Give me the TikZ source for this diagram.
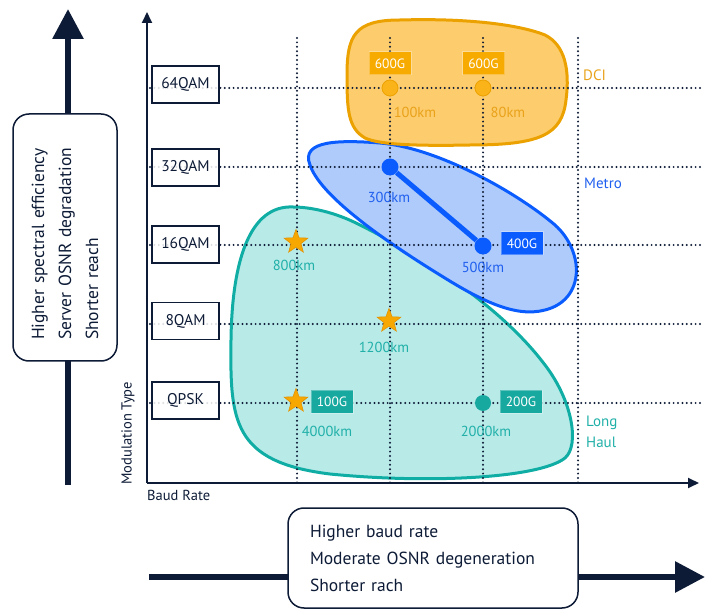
\documentclass[tikz,border=0pt]{standalone}
\usepackage{fontspec}
\setmainfont{PT Sans}
\usetikzlibrary{arrows.meta,shapes.geometric}
\definecolor{navy}{HTML}{0D1B36}
\definecolor{dciline}{HTML}{EBA200}
\definecolor{dcifill}{HTML}{FDCC6C}
\definecolor{dcidot}{HTML}{FBB31A}
\definecolor{dcibox}{HTML}{F7AA00}
\definecolor{dcitext}{HTML}{E9A21A}
\definecolor{metroline}{HTML}{0A5CFF}
\definecolor{metrofill}{HTML}{AFCBFB}
\definecolor{metrotext}{HTML}{1F5FEF}
\definecolor{lhline}{HTML}{10ADA5}
\definecolor{lhfill}{HTML}{B8EAE8}
\definecolor{lhbox}{HTML}{17A99F}
\definecolor{lhtext}{HTML}{20B0A8}
\definecolor{starfill}{HTML}{F7A800}
\definecolor{starline}{HTML}{E39200}
\begin{document}
\begin{tikzpicture}[x=1pt,y=-1pt,
  gridline/.style={navy, line width=2.2pt, dash pattern=on 0pt off 4.4pt, line cap=round},
  modbox/.style={draw=navy, line width=1.4pt, fill=white, fill opacity=0.85, text opacity=1, minimum width=67pt, minimum height=37pt, inner sep=0pt, font=\fontsize{15.5}{18}\selectfont, text=navy},
  ratebox/.style={fill=#1, draw=white, draw opacity=0.3, line width=1pt, minimum width=42pt, minimum height=23pt, inner sep=0pt, text=white, font=\fontsize{13.5}{16}\selectfont},
  kmlabel/.style={text=#1, font=\fontsize{14.5}{17}\selectfont, inner sep=0pt},
  ptdot/.style={circle, fill=#1, minimum size=16pt, inner sep=0pt},
  starmark/.style={star, star points=5, star point ratio=2.4, minimum size=25pt, inner sep=0pt, fill=starfill, draw=starline, line width=0.6pt},
  region/.style={text=#1, font=\fontsize{15}{21}\selectfont, inner sep=0pt, anchor=west, align=left},
  bigarrow/.style={navy, line width=6pt, -{Triangle[length=30pt,width=30pt]}},
  axis/.style={navy, line width=1.8pt, -{Triangle[length=11pt,width=10pt]}},
  notebox/.style={draw=navy, line width=1.5pt, fill=white, rounded corners=16pt, text=navy, align=left, font=\fontsize{17.5}{27}\selectfont}
]
\useasboundingbox (0,0) rectangle (707,609);

% big side arrows and note boxes
\coordinate (la1) at (68,485);
\coordinate (la2) at (68,9);
\draw[bigarrow] (la1) -- (la2);
\node[notebox, rotate=90, minimum width=247pt, minimum height=104pt, text width=205pt, inner xsep=21pt, inner ysep=0pt] (lbox) at (65,237.5)
  {Higher spectral efficiency\\Server OSNR degradation\\Shorter reach};

\coordinate (ba1) at (149,577);
\coordinate (ba2) at (705,577);
\draw[bigarrow] (ba1) -- (ba2);
\node[notebox, minimum width=290pt, minimum height=100pt, text width=246pt, inner xsep=22pt, inner ysep=0pt] (bbox) at (433,558)
  {Higher baud rate\\Moderate OSNR degeneration\\Shorter rach};

% regions
\draw[lhline, line width=3pt, fill=lhfill]
  (293,207) .. controls (250,205) and (232,260) .. (231,340)
  .. controls (230,420) and (232,462) .. (330,474)
  .. controls (430,484) and (540,478) .. (565,458)
  .. controls (580,445) and (572,400) .. (545,365)
  .. controls (500,305) and (420,255) .. (360,225)
  .. controls (335,212) and (310,207) .. (293,207) -- cycle;
\draw[metroline, line width=3pt, fill=metrofill]
  (310,165) .. controls (300,140) and (340,140) .. (380,143)
  .. controls (440,148) and (520,195) .. (555,225)
  .. controls (585,252) and (585,300) .. (545,310)
  .. controls (515,318) and (480,300) .. (440,275)
  .. controls (380,238) and (320,195) .. (310,165) -- cycle;
\draw[dciline, line width=3pt, fill=dcifill]
  (347,75) .. controls (347,35) and (355,20) .. (400,20)
  .. controls (470,18) and (520,25) .. (545,35)
  .. controls (565,45) and (570,70) .. (566,100)
  .. controls (562,135) and (540,145) .. (470,145)
  .. controls (420,146) and (380,145) .. (365,138)
  .. controls (348,128) and (347,110) .. (347,75) -- cycle;

% grid
\foreach \gx in {297,390,483,578} \draw[gridline] (\gx,38) -- (\gx,483);
\foreach \gy in {88,167,245,324,403} \draw[gridline] (150,\gy) -- (700,\gy);

% axes
\coordinate (origin) at (147,483);
\coordinate (ytip) at (147,12);
\coordinate (xtip) at (699,483);
\draw[axis] (origin) -- (ytip);
\draw[axis] (origin) -- (xtip);
\node[rotate=90, anchor=west, inner sep=0pt, text=navy, font=\fontsize{14.5}{17}\selectfont] (ylabel) at (128,485) {Modulation Type};
\node[anchor=west, inner sep=0pt, text=navy, font=\fontsize{14.5}{17}\selectfont] (xlabel) at (147,495) {Baud Rate};

% modulation labels
\node[modbox] (q64) at (185.5,84.5) {64QAM};
\node[modbox] (q32) at (185.5,167.5) {32QAM};
\node[modbox] (q16) at (185.5,244.5) {16QAM};
\node[modbox] (q8) at (185.5,321) {8QAM};
\node[modbox] (qpsk) at (185.5,400.5) {QPSK};

% DCI points
\node[ptdot=dcidot, draw=dciline, line width=0.8pt] (d1) at (390,88) {};
\node[ptdot=dcidot, draw=dciline, line width=0.8pt] (d2) at (483,88) {};
\node[ratebox=dcibox] (d1r) at (390,63.5) {600G};
\node[ratebox=dcibox] (d2r) at (483.5,63.5) {600G};
\node[kmlabel=dcitext] (d1k) at (415,112) {100km};
\node[kmlabel=dcitext] (d2k) at (508,112) {80km};
\node[region=dcitext] (dci) at (583,75) {DCI};

% Metro points
\node[ptdot=metroline, minimum size=17pt] (m1) at (390,167) {};
\node[ptdot=metroline, minimum size=17pt] (m2) at (483,246) {};
\draw[metroline, line width=5pt] (m1) -- (m2);
\node[ratebox=metroline] (m2r) at (522,243.5) {400G};
\node[kmlabel=metrotext] (m1k) at (389,197) {300km};
\node[kmlabel=metrotext] (m2k) at (483,267) {500km};
\node[region=metrotext] (metro) at (584,183) {Metro};

% Long haul points
\node[starmark] (s1) at (296,242) {};
\node[starmark] (s2) at (389,321) {};
\node[starmark] (s3) at (296,401) {};
\node[ptdot=lhbox] (l1) at (483,403) {};
\node[ratebox=lhbox] (s3r) at (332,402) {100G};
\node[ratebox=lhbox] (l1r) at (521,402) {200G};
\node[kmlabel=lhtext] (s1k) at (294,265) {800km};
\node[kmlabel=lhtext] (s2k) at (384,347) {1200km};
\node[kmlabel=lhtext] (s3k) at (327,431) {4000km};
\node[kmlabel=lhtext] (l1k) at (486,431) {2000km};
\node[region=lhtext] (lh) at (586,432) {Long\\Haul};
\end{tikzpicture}
\end{document}
